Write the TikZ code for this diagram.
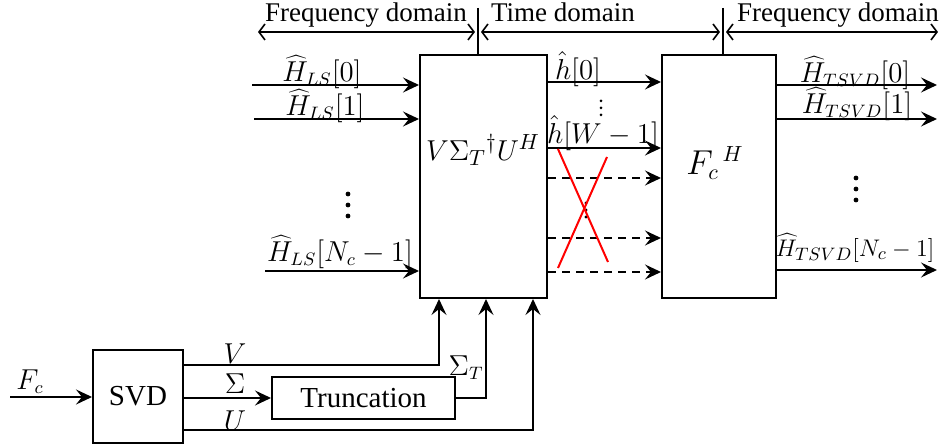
\documentclass[tikz,border=0pt]{standalone}
\usepackage{fontspec}
\setmainfont{Liberation Serif}
\usetikzlibrary{arrows.meta}
\begin{document}
\begin{tikzpicture}[x=0.5pt,y=-0.5pt,
 box/.style={draw, line width=1pt, inner sep=0pt, font=\fontsize{14.5}{17}\selectfont},
 arr/.style={line width=1pt, -{Stealth[length=8pt,width=7.5pt,inset=3pt]}},
 darr/.style={arr, dash pattern=on 4pt off 3pt},
 dom/.style={line width=0.8pt, {Straight Barb[length=3pt,width=8pt]}-{Straight Barb[length=3pt,width=8pt]}},
 lbl/.style={inner sep=0pt, font=\fontsize{13.5}{16}\selectfont},
 txt/.style={inner sep=0pt, font=\fontsize{13.5}{16}\selectfont},
 ]
\useasboundingbox (0,0) rectangle (939,448);
% boxes
\node[box, minimum width=63.5pt, minimum height=121.5pt] (M) at (483.5,176.5) {};
\node[box, minimum width=57pt, minimum height=121.5pt] (F) at (719,176.5) {};
\node[box, minimum width=45pt, minimum height=46.5pt] (S) at (138,396.5) {SVD};
\node[box, minimum width=91.5pt, minimum height=21pt] (T) at (363.5,398) {Truncation};
\node[lbl, font=\fontsize{15.5}{18}\selectfont] (ML) at (483,150) {$V\Sigma_T{}^{\dagger}U^H$};
\node[lbl, font=\fontsize{16}{18}\selectfont] (FL) at (715,163) {$F_c{}^{\,H}$};
% domains
\coordinate (d1) at (478,8);
\coordinate (d2) at (723,8);
\draw[line width=0.8pt] (d1) -- (d1 |- M.north);
\draw[line width=0.8pt] (d2) -- (d2 |- F.north);
\coordinate (fl) at (258,32);
\coordinate (fr) at (938,32);
\draw[dom, shorten >=1.5pt] (fl) -- (fl -| d1);
\draw[dom, shorten <=1.5pt, shorten >=1.5pt] (fl -| d1) -- (fl -| d2);
\draw[dom, shorten <=1.5pt] (fl -| d2) -- (fr);
\node[txt] (t1) at (366,15) {Frequency domain};
\node[txt] (t2) at (563,12) {Time domain};
\node[txt] (t3) at (838,15) {Frequency domain};
% inputs
\coordinate (i0) at (252,85);
\coordinate (i1) at (254,119);
\coordinate (i2) at (265,271);
\draw[arr] (i0) -- (i0 -| M.west);
\draw[arr] (i1) -- (i1 -| M.west);
\draw[arr] (i2) -- (i2 -| M.west);
\node[lbl] (L0) at (322,72) {$\widehat{H}_{LS}[0]$};
\node[lbl] (L1) at (325,106) {$\widehat{H}_{LS}[1]$};
\node[lbl] (L2) at (340,252) {$\widehat{H}_{LS}[N_c-1]$};
\fill (348,194) circle[radius=2.4] (348,205) circle[radius=2.4] (348,216) circle[radius=2.4];
% middle
\draw[arr] (M.east |- 0,82) -- (F.west |- 0,82);
\draw[arr] (M.east |- 0,148) -- (F.west |- 0,148);
\draw[darr] (M.east |- 0,178) -- (F.west |- 0,178);
\draw[darr] (M.east |- 0,238) -- (F.west |- 0,238);
\draw[darr] (M.east |- 0,272) -- (F.west |- 0,272);
\node[lbl] (h0) at (578,69) {$\hat{h}[0]$};
\fill (601,101) circle[radius=1.5] (601,108) circle[radius=1.5] (601,115) circle[radius=1.5];
\node[lbl] (h1) at (603,133) {$\hat{h}[W-1]$};
\fill (586,203) circle[radius=1.6] (586,210) circle[radius=1.6] (586,217) circle[radius=1.6];
\draw[red, line width=1pt] (558,149) -- (608,262);
\draw[red, line width=1pt] (607,157) -- (558,268);
% outputs
\coordinate (o0) at (937,85);
\coordinate (o1) at (937,119);
\coordinate (o2) at (937,270);
\draw[arr] (F.east |- o0) -- (o0);
\draw[arr] (F.east |- o1) -- (o1);
\draw[arr] (F.east |- o2) -- (o2);
\node[lbl] (R0) at (855,73) {$\widehat{H}_{TSVD}[0]$};
\node[lbl] (R1) at (857,104) {$\widehat{H}_{TSVD}[1]$};
\fill (856,178) circle[radius=2.4] (856,189) circle[radius=2.4] (856,200) circle[radius=2.4];
\node[lbl, font=\fontsize{13}{16}\selectfont] (R2) at (855,248) {$\widehat{H}_{TSVD}[N_c-1]$};
% bottom
\coordinate (fc) at (10,397);
\draw[arr] (fc) -- (fc -| S.west);
\node[lbl] (FcL) at (30,382) {$F_c$};
\draw[arr] (S.east |- 0,365) -| (M.south -| 439,0);
\node[lbl] (VL) at (235,354) {$V$};
\draw[arr] (S.east |- T.west) -- (T.west);
\node[lbl] (SL) at (235,384) {$\Sigma$};
\draw[arr] (T.east) -| (M.south -| 486,0);
\node[lbl] (STL) at (466,368) {$\Sigma_T$};
\draw[arr] (S.east |- 0,430) -| (M.south -| 533,0);
\node[lbl] (UL) at (235,421) {$U$};
\end{tikzpicture}
\end{document}
